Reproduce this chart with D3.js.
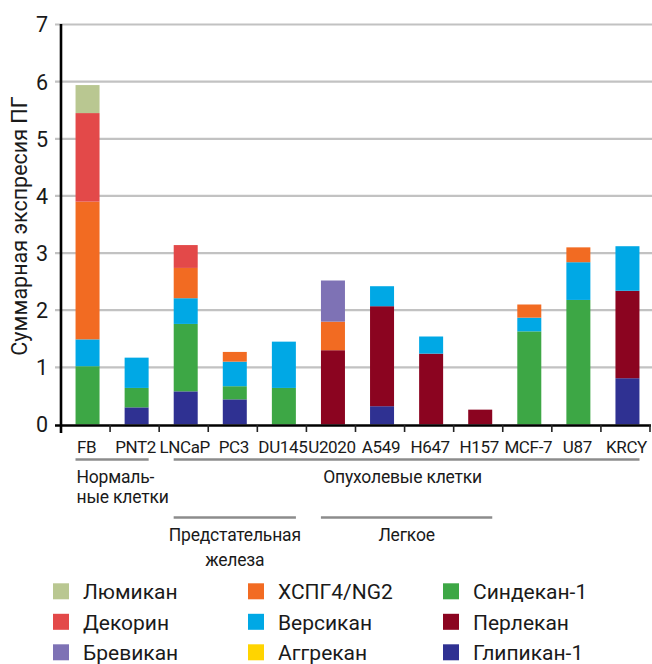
<!DOCTYPE html>
<html><head><meta charset="utf-8">
<script src="https://cdn.jsdelivr.net/npm/d3@7"></script>
<style>
html,body{margin:0;padding:0;background:#fff;}
svg text{font-family:Roboto,"Noto Sans",sans-serif;fill:#1a1a1a;}
</style></head>
<body>
<svg id="chart" width="652" height="664"></svg>
<script>
const categories = ["FB","PNT2","LNCaP","PC3","DU145","U2020","A549","H647","H157","MCF-7","U87","KRCY"];
const yTicks = [0,1,2,3,4,5,6,7];
const seriesNames = ["Глипикан-1","Синдекан-1","Перлекан","Версикан","ХСПГ4/NG2","Бревикан","Декорин","Люмикан","Аггрекан"];
const glypican  = [0,0.30,0.58,0.44,0,0,0.32,0,0,0,0,0.81];
const syndecan  = [1.02,0.34,1.18,0.23,0.64,0,0,0,0,1.63,2.18,0];
const perlecan  = [0,0,0,0,0,1.30,1.75,1.24,0.26,0,0,1.53];
const versican  = [0.47,0.53,0.45,0.43,0.81,0,0.35,0.30,0,0.24,0.66,0.78];
const cspg4     = [2.41,0,0.53,0.17,0,0.50,0,0,0,0.23,0.26,0];
const brevican  = [0,0,0,0,0,0.72,0,0,0,0,0,0];
const decorin   = [1.55,0,0.40,0,0,0,0,0,0,0,0,0];
const lumican   = [0.49,0,0,0,0,0,0,0,0,0,0,0];
const aggrecan  = [0,0,0,0,0,0,0,0,0,0,0,0];
const seriesValues = [glypican,syndecan,perlecan,versican,cspg4,brevican,decorin,lumican,aggrecan];
const seriesColors = ["#2f3192","#3da745","#8b0420","#00a8e5","#f26b22","#7e72b5","#e34949","#b9c791","#ffd400"];
const legendOrder = ["Люмикан","Декорин","Бревикан","ХСПГ4/NG2","Версикан","Аггрекан","Синдекан-1","Перлекан","Глипикан-1"];
const groups = [
  {label:["Нормаль-","ные клетки"], from:"FB", to:"PNT2", level:0, anchor:"start"},
  {label:["Опухолевые клетки"], from:"LNCaP", to:"KRCY", level:0, anchor:"middle"},
  {label:["Предстательная","железа"], from:"LNCaP", to:"DU145", level:1, anchor:"middle"},
  {label:["Легкое"], from:"U2020", to:"H157", level:1, anchor:"middle"}
];
const yTitle = "Суммарная экспресия ПГ";

const svg = d3.select("#chart");
const x = d3.scaleBand().domain(categories).range([61,650]).padding(0);
const y = d3.scaleLinear().domain([0,7]).range([424.5,24.5]);
const color = d3.scaleOrdinal().domain(seriesNames).range(seriesColors);

// gridlines
svg.append("g").selectAll("line").data(yTicks.filter(d=>d>0)).join("line")
  .attr("x1",55).attr("x2",652).attr("y1",d=>y(d)).attr("y2",d=>y(d))
  .attr("stroke","#c2c2c2").attr("stroke-width",2.2);

// stacked data
const table = categories.map((c,i)=>{const o={cat:c}; seriesNames.forEach((s,j)=>o[s]=seriesValues[j][i]); return o;});
const stack = d3.stack().keys(seriesNames)(table);
const bw = 24, off = 2;
svg.append("g").selectAll("g").data(stack).join("g").attr("fill",d=>color(d.key))
  .selectAll("rect").data(d=>d).join("rect")
  .attr("x",d=>x(d.data.cat)+x.bandwidth()/2+off-bw/2)
  .attr("width",bw)
  .attr("y",d=>y(d[1]))
  .attr("height",d=>Math.max(0,y(d[0])-y(d[1])));

// axes
svg.append("line").attr("x1",61).attr("x2",61).attr("y1",24).attr("y2",433).attr("stroke","#000").attr("stroke-width",2.6);
svg.append("line").attr("x1",55).attr("x2",651).attr("y1",425.5).attr("y2",425.5).attr("stroke","#000").attr("stroke-width",2.4);
svg.append("g").selectAll("line").data(categories).join("line")
  .attr("x1",d=>x(d)+x.bandwidth()).attr("x2",d=>x(d)+x.bandwidth())
  .attr("y1",425).attr("y2",432).attr("stroke","#222").attr("stroke-width",1.6);

// y tick labels
svg.append("g").selectAll("text").data(yTicks).join("text")
  .attr("x",48).attr("y",d=>y(d)).attr("dy","0.37em").attr("text-anchor","end")
  .attr("font-size",21.5).text(d=>d);

// y title
svg.append("text").attr("transform","translate(27,226) rotate(-90)")
  .attr("text-anchor","middle").attr("font-size",21.5).text(yTitle);

// x labels
svg.append("g").selectAll("text").data(categories).join("text")
  .attr("x",d=>x(d)+x.bandwidth()/2+1).attr("y",453).attr("text-anchor","middle")
  .attr("font-size",17).attr("letter-spacing",-0.35).text(d=>d);

// groups
groups.forEach(g=>{
  const x1 = x(g.from) + 14.5;
  const x2 = x(g.to) + x.bandwidth() - 10.5;
  const ly = g.level===0 ? 459.5 : 517.5;
  const lh = g.level===0 ? 20.5 : 25.3;
  svg.append("line").attr("x1",x1).attr("x2",x2).attr("y1",ly).attr("y2",ly)
    .attr("stroke","#8c8c8c").attr("stroke-width",2.5);
  const tx = g.anchor==="start" ? x1+1 : (x1+x2)/2 - (g.level===0 ? 4 : 0);
  const t = svg.append("text").attr("text-anchor",g.anchor).attr("font-size",17.5).attr("letter-spacing",-0.2);
  g.label.forEach((l,i)=>t.append("tspan").attr("x",tx).attr("y",ly+23+i*lh).text(l));
});

// legend
const lg = svg.append("g");
legendOrder.forEach((name,i)=>{
  const col = Math.floor(i/3), row = i%3;
  const sx = [53,248,443][col], by = 599 + row*30.5;
  lg.append("rect").attr("x",sx).attr("y",by-15.7).attr("width",16).attr("height",16).attr("fill",color(name));
  lg.append("text").attr("x",sx+30).attr("y",by).attr("font-size",21).text(name);
});
</script>
</body></html>
